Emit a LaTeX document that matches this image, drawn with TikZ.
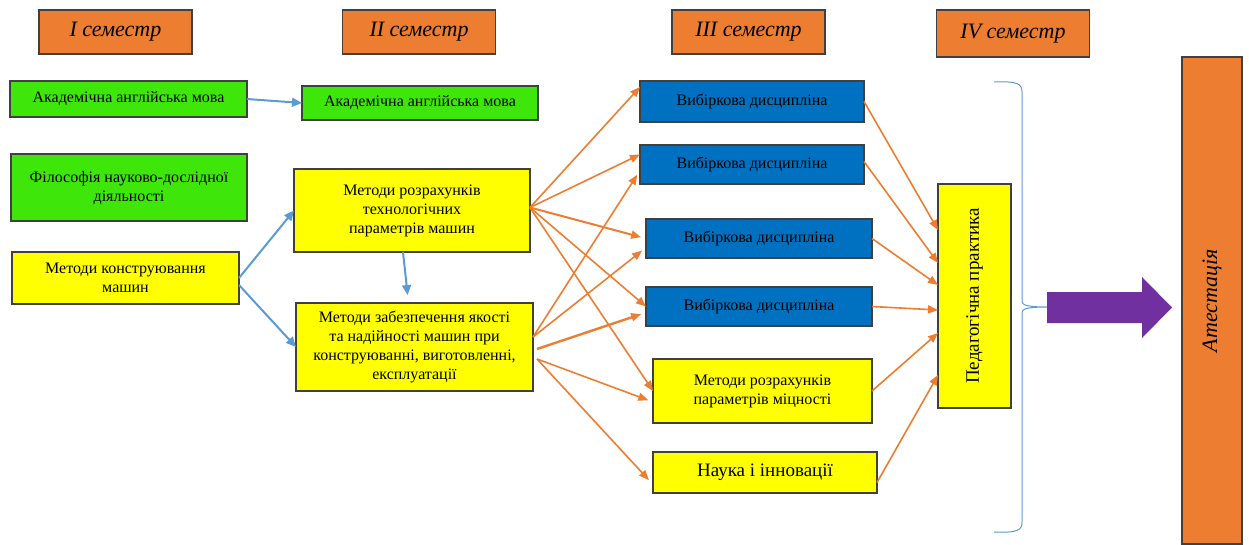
\documentclass[tikz,border=0pt]{standalone}
\usepackage{fontspec}
\setmainfont{Liberation Serif}
\usetikzlibrary{arrows.meta}
\definecolor{semorange}{RGB}{237,125,49}
\definecolor{langgreen}{RGB}{62,230,10}
\definecolor{vibblue}{RGB}{0,112,192}
\definecolor{boxyellow}{RGB}{255,255,0}
\definecolor{arrblue}{RGB}{91,155,213}
\definecolor{arrorange}{RGB}{237,125,49}
\definecolor{purp}{RGB}{112,48,160}

\begin{document}
\begin{tikzpicture}
  [x=1pt,y=1pt,
   box/.style={rectangle,draw=black!75,line width=1.1pt,align=center,
               outer sep=0,inner sep=2pt,font=\fontsize{16}{19}\selectfont},
   sem/.style={box,fill=semorange,minimum width=153,minimum height=44,
               font=\fontsize{22}{26}\selectfont\itshape},
   lang/.style={box,fill=langgreen},
   yel/.style={box,fill=boxyellow},
   vib/.style={box,fill=vibblue,minimum width=224,minimum height=39},
   bluearr/.style={draw=arrblue,line width=2pt,-{Triangle[length=10pt,width=9pt]}},
   orarr/.style={draw=arrorange,line width=1.6pt,-{Triangle[length=10pt,width=8pt]}},
   brace/.style={draw=arrblue,line width=1pt}]
  \useasboundingbox (0,0) rectangle (1249,544);
  \node[sem] (s1) at (115.5,512) {I семестр};
  \node[sem] (s2) at (419,512) {II семестр};
  \node[sem] (s3) at (748.5,512) {III семестр};
  \node[sem,minimum height=47] (s4) at (1013,510.5) {IV семестр};
  \node[lang,minimum width=237,minimum height=36] (eng1) at (128.5,445) {Академічна англійська мова};
  \node[lang,minimum width=236,minimum height=34] (eng2) at (420,441) {Академічна англійська мова};
  \node[lang,minimum width=236,minimum height=67] (phil) at (129,356.5) {Філософія науково-дослідної\\діяльності};
  \node[yel,minimum width=227,minimum height=52] (konstr) at (125.5,266) {Методи конструювання\\машин};
  \node[yel,minimum width=236,minimum height=83] (rozr) at (412,333.5) {Методи розрахунків\\технологічних\\параметрів машин};
  \node[yel,minimum width=237,minimum height=88] (zabezp) at (414.5,197) {Методи забезпечення якості\\та надійності машин при\\конструюванні, виготовленні,\\експлуатації};
  \node[vib,minimum height=41] (v1) at (752,442.5) {Вибіркова дисципліна};
  \node[vib] (v2) at (752,379.5) {Вибіркова дисципліна};
  \node[vib,minimum width=226] (v3) at (759,305.5) {Вибіркова дисципліна};
  \node[vib,minimum width=226] (v4) at (759,237.5) {Вибіркова дисципліна};
  \node[yel,minimum width=219,minimum height=64] (mitsn) at (762.5,153) {Методи розрахунків\\параметрів міцності};
  \node[yel,minimum width=224,minimum height=41,font=\fontsize{19}{22}\selectfont] (nauka) at (765,71.5) {Наука і інновації};
  \node[yel,minimum width=73,minimum height=224,font=\fontsize{19}{22}\selectfont] (ped) at (974.5,248) {\rotatebox{90}{Педагогічна практика}};
  \node[box,fill=semorange,minimum width=60,minimum height=487,font=\fontsize{22}{26}\selectfont\itshape] (atest) at (1212,243.5) {\rotatebox{90}{Атестація}};
  \draw[bluearr] (eng1.east) to (eng2.west);
  \draw[bluearr] (konstr.east) to (rozr.west);
  \draw[bluearr] ([yshift=-7pt]konstr.east) to (zabezp.west);
  \draw[bluearr,shorten >=8pt] ([xshift=-9pt]rozr.south) to ([xshift=-6pt]zabezp.north);
  \draw[orarr] ([yshift=3pt]rozr.east) to ([yshift=-6pt]v1.north west);
  \draw[orarr] ([yshift=3pt]rozr.east) to ([yshift=10pt]v2.west);
  \draw[orarr,line width=2pt,shorten >=5pt] ([yshift=3pt]rozr.east) to (v3.west);
  \draw[orarr] ([yshift=3pt]rozr.east) to (v4.west);
  \draw[orarr] ([yshift=3pt]rozr.east) to (mitsn.west);
  \draw[orarr,shorten >=5pt] ([yshift=10pt]zabezp.east) to ([yshift=-6pt]v2.west);
  \draw[orarr,shorten >=5pt] ([yshift=10pt]zabezp.east) to ([yshift=-9pt]v3.west);
  \draw[orarr,line width=2.4pt,shorten >=5pt] ([xshift=4pt,yshift=-2pt]zabezp.east) to ([yshift=-6pt]v4.west);
  \draw[orarr,shorten >=5pt] ([xshift=4pt,yshift=-12pt]zabezp.east) to ([yshift=-11pt]mitsn.west);
  \draw[orarr,shorten >=6pt] ([xshift=4pt,yshift=-12pt]zabezp.east) to ([yshift=-12pt]nauka.west);
  \draw[orarr] (v1.east) to ([yshift=66pt]ped.west);
  \draw[orarr] ([yshift=3pt]v2.east) to ([yshift=33pt]ped.west);
  \draw[orarr] (v3.east) to ([yshift=11pt]ped.west);
  \draw[orarr] (v4.east) to ([yshift=-14pt]ped.west);
  \draw[orarr] (mitsn.east) to ([yshift=-37pt]ped.west);
  \draw[orarr] ([yshift=-10pt]nauka.east) to ([yshift=-79pt]ped.west);
  \coordinate (btop) at (994,462);
  \coordinate (bbot) at (994,12);
  \coordinate (btip) at (1048,237);
  \draw[brace] (btop) .. controls (1018,463) and (1022,460) .. (1022,452) -- (1022,243)
    .. controls (1022,239) and (1026,237) .. (btip)
    .. controls (1026,237) and (1022,235) .. (1022,231) -- (1022,22)
    .. controls (1022,14) and (1018,11) .. (bbot);
  \fill[purp] (1047,252) -- (1142,252) -- (1142,267) -- (1172,236.5) -- (1142,206)
    -- (1142,221) -- (1047,221) -- cycle;
\end{tikzpicture}
\end{document}
